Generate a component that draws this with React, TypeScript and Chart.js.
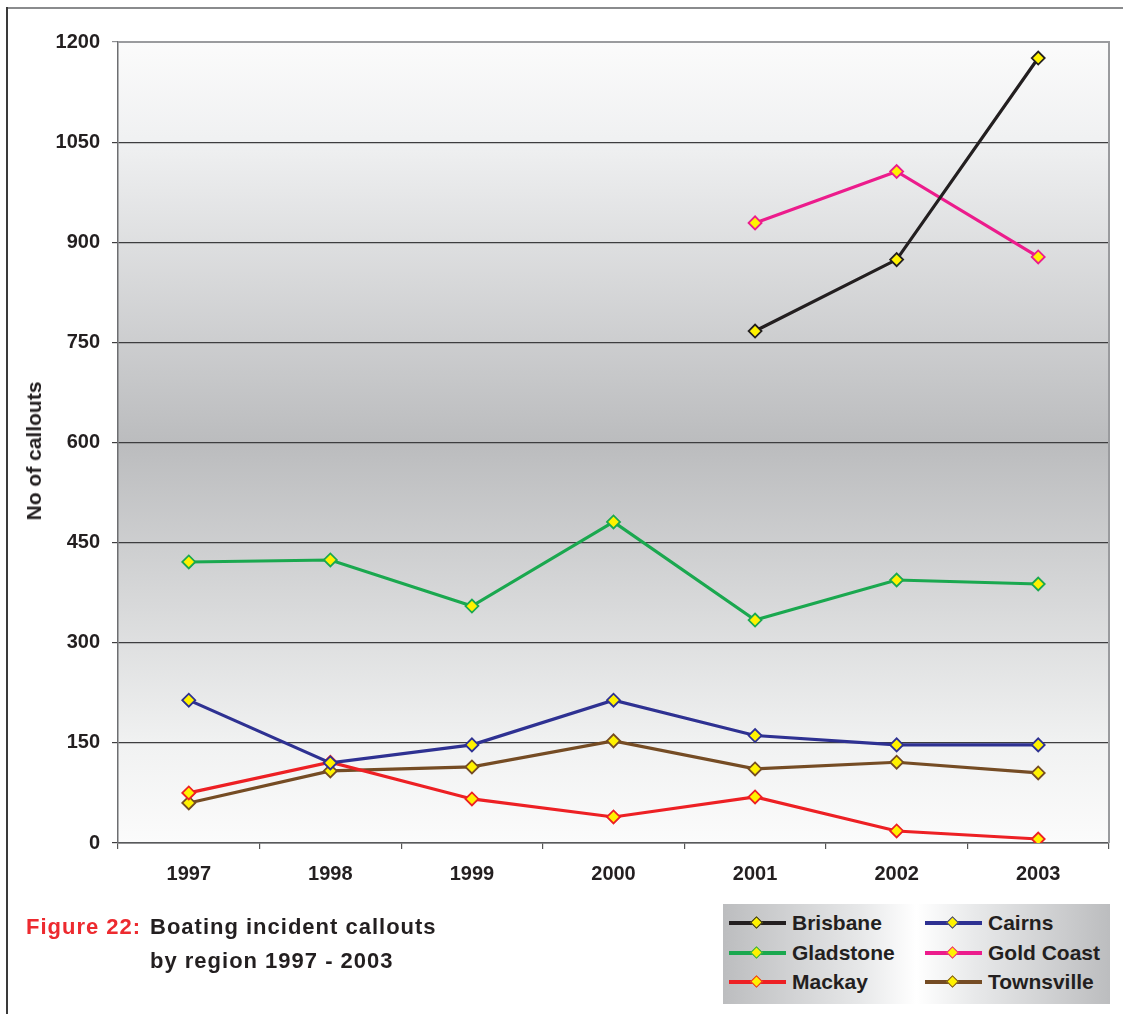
import React, { useEffect, useRef } from "react";
import { Chart, registerables } from "chart.js";

Chart.register(...registerables);

const years = ["1997", "1998", "1999", "2000", "2001", "2002", "2003"];
const brisbane = [null, null, null, null, 767, 874, 1176];
const cairns = [214, 120, 147, 214, 161, 147, 147];
const gladstone = [421, 424, 355, 481, 334, 394, 388];
const goldCoast = [null, null, null, null, 929, 1006, 878];
const mackay = [75, 121, 66, 39, 69, 18, 6];
const townsville = [60, 108, 114, 153, 111, 121, 105];
const yTicks = [0, 150, 300, 450, 600, 750, 900, 1050, 1200];

const seriesNames = ["Brisbane", "Cairns", "Gladstone", "Gold Coast", "Mackay", "Townsville"];
const seriesData = [brisbane, cairns, gladstone, goldCoast, mackay, townsville];
const seriesColors = ["#231f20", "#2e3192", "#1aa84f", "#ec1c8c", "#ed2024", "#754c24"];
const markerFill = "#fff200";
const FONT = "'Liberation Sans', Arial, Helvetica, sans-serif";

const bgPlugin = {
  id: "bgPlugin",
  beforeDraw(chart: any) {
    const { ctx, chartArea } = chart;
    const { left, top, right, bottom } = chartArea;
    const g = ctx.createLinearGradient(0, top, 0, bottom);
    g.addColorStop(0, "#fbfbfb");
    g.addColorStop(0.12, "#f0f1f2");
    g.addColorStop(0.5, "#bbbcbe");
    g.addColorStop(0.88, "#f1f2f2");
    g.addColorStop(1, "#fbfbfb");
    ctx.save();
    ctx.fillStyle = g;
    ctx.fillRect(left, top, right - left, bottom - top);
    ctx.restore();
  },
  afterDraw(chart: any) {
    const { ctx, chartArea } = chart;
    ctx.save();
    ctx.strokeStyle = "#9a9b9e";
    ctx.lineWidth = 2;
    ctx.beginPath();
    ctx.moveTo(chartArea.left, chartArea.top);
    ctx.lineTo(chartArea.right, chartArea.top);
    ctx.lineTo(chartArea.right, chartArea.bottom);
    ctx.stroke();
    ctx.restore();
  },
};

function LegendItem({ name, color, left, top }: { name: string; color: string; left: number; top: number }) {
  return (
    <div style={{ position: "absolute", left, top, height: 24, width: 190 }}>
      <div style={{ position: "absolute", left: 0, top: 10, width: 57, height: 4, background: color }} />
      <div
        style={{
          position: "absolute",
          left: 23,
          top: 7,
          width: 7,
          height: 7,
          background: markerFill,
          border: `1.5px solid ${color}`,
          transform: "rotate(45deg)",
        }}
      />
      <div
        style={{
          position: "absolute",
          left: 63,
          top: 0,
          font: `bold 21px ${FONT}`,
          color: "#231f20",
          lineHeight: "24px",
          whiteSpace: "nowrap",
        }}
      >
        {name}
      </div>
    </div>
  );
}

export default function App() {
  const canvasRef = useRef<HTMLCanvasElement | null>(null);

  useEffect(() => {
    if (!canvasRef.current) return;
    const chart = new Chart(canvasRef.current, {
      type: "line",
      data: {
        labels: years,
        datasets: seriesData.map((d, i) => ({
          label: seriesNames[i],
          data: d,
          borderColor: seriesColors[i],
          backgroundColor: markerFill,
          borderWidth: 3.2,
          pointStyle: "rectRot",
          pointRadius: 6.5,
          pointBorderWidth: 1.8,
          pointBackgroundColor: markerFill,
          pointBorderColor: seriesColors[i],
          spanGaps: false,
          tension: 0,
        })),
      },
      options: {
        responsive: false,
        animation: false,
        devicePixelRatio: 1,
        layout: { padding: { top: 42, right: 14, bottom: 131, left: 0 } },
        plugins: {
          legend: { display: false },
          tooltip: { enabled: false },
        },
        scales: {
          x: {
            type: "category",
            offset: true,
            grid: {
              display: true,
              drawOnChartArea: false,
              drawTicks: true,
              tickLength: 6,
              color: "#555",
              lineWidth: 1.2,
              offset: true,
            },
            border: { color: "#58595b", width: 1.5 },
            ticks: {
              color: "#231f20",
              font: { family: FONT, size: 20, weight: "bold" },
              padding: 13,
              maxRotation: 0,
            },
            afterFit(scale: any) {
              scale.height = 40;
            },
          },
          y: {
            min: 0,
            max: 1200,
            afterBuildTicks(scale: any) {
              scale.ticks = yTicks.map((v) => ({ value: v }));
            },
            grid: {
              drawTicks: true,
              tickLength: 6,
              color: (ctx: any) => (ctx.tick && ctx.tick.value === 1200 ? "#8e8f92" : "#3d3d3f"),
              lineWidth: 1.2,
            },
            border: { color: "#6d6e71", width: 1.5 },
            ticks: {
              color: "#231f20",
              font: { family: FONT, size: 20, weight: "bold" },
              padding: 12,
              callback: (v: any) => String(v),
            },
            title: { display: false },
            afterFit(scale: any) {
              scale.width = 118;
            },
          },
        },
      },
      plugins: [bgPlugin],
    } as any);
    return () => chart.destroy();
  }, []);

  const capStyle: React.CSSProperties = {
    position: "absolute",
    font: `bold 22px ${FONT}`,
    letterSpacing: "1px",
    color: "#231f20",
    lineHeight: "26px",
    whiteSpace: "nowrap",
  };

  return (
    <div style={{ position: "absolute", left: 0, top: 0, width: 1123, height: 1014, background: "#fff", overflow: "hidden" }}>
      <canvas ref={canvasRef} width={1123} height={1014} style={{ position: "absolute", left: 0, top: 0 }} />
      <div style={{ position: "absolute", left: 6, top: 7, width: 1117, height: 2, background: "#8a8b8d" }} />
      <div style={{ position: "absolute", left: 6, top: 7, width: 1.5, height: 1007, background: "#3a3a3a" }} />
      <div
        style={{
          position: "absolute",
          left: 34,
          top: 451,
          transform: "translate(-50%, -50%) rotate(-90deg)",
          font: `bold 21px ${FONT}`,
          color: "#231f20",
          whiteSpace: "nowrap",
          lineHeight: "24px",
        }}
      >
        No of callouts
      </div>
      <div style={{ ...capStyle, left: 26, top: 914, color: "#ed2a2f" }}>Figure 22:</div>
      <div style={{ ...capStyle, left: 150, top: 914 }}>Boating incident callouts</div>
      <div style={{ ...capStyle, left: 150, top: 948 }}>by region 1997 - 2003</div>
      <div
        style={{
          position: "absolute",
          left: 723,
          top: 904,
          width: 387,
          height: 100,
          background: "linear-gradient(to right, #bcbdbf 0%, #e6e7e8 35%, #ffffff 50%, #e8e9ea 65%, #bcbdbf 100%)",
        }}
      >
        <LegendItem name={seriesNames[0]} color={seriesColors[0]} left={6} top={7} />
        <LegendItem name={seriesNames[1]} color={seriesColors[1]} left={202} top={7} />
        <LegendItem name={seriesNames[2]} color={seriesColors[2]} left={6} top={37} />
        <LegendItem name={seriesNames[3]} color={seriesColors[3]} left={202} top={37} />
        <LegendItem name={seriesNames[4]} color={seriesColors[4]} left={6} top={66} />
        <LegendItem name={seriesNames[5]} color={seriesColors[5]} left={202} top={66} />
      </div>
    </div>
  );
}
